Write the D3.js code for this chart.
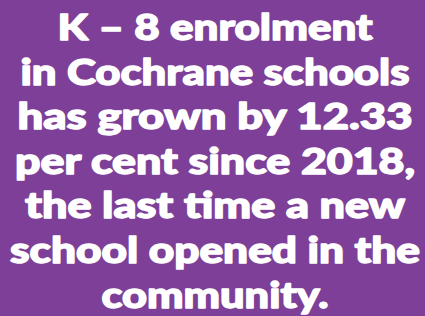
<!DOCTYPE html>
<html>
<head>
<meta charset="utf-8">
<script src="https://cdn.jsdelivr.net/npm/d3@7"></script>
<style>
  html, body { margin: 0; padding: 0; background: #7e3f98; }
  svg { display: block; }
</style>
</head>
<body>
<svg id="chart"></svg>
<script>
// text lines of the card, and the width each line fills in the original
var lines = [
    "K \u2013 8 enrolment",
    "in Cochrane schools",
    "has grown by 12.33",
    "per cent since 2018,",
    "the last time a new",
    "school opened in the",
    "community."
];
var line_widths = [315, 389, 395, 400, 380, 410, 227];

var width = 425,
    height = 316;

var svg = d3.select("#chart")
    .attr("width", width)
    .attr("height", height);

svg.append("rect")
    .attr("width", width)
    .attr("height", height)
    .attr("fill", "#7e3f98");

// baselines spaced evenly down the card
var y_scale = d3.scaleLinear()
    .domain([0, lines.length - 1])
    .range([40, 307.5]);

// the original face is a very heavy geometric sans, so thicken with a stroke
svg.selectAll(".line")
    .data(lines)
    .enter().append("text")
    .attr("class", "line")
    .attr("x", 215)
    .attr("y", (d, i) => y_scale(i))
    .attr("text-anchor", "middle")
    .attr("textLength", (d, i) => line_widths[i])
    .attr("lengthAdjust", "spacingAndGlyphs")
    .attr("fill", "#ffffff")
    .attr("stroke", "#ffffff")
    .attr("stroke-width", 1.4)
    .attr("stroke-linejoin", "round")
    .style("font-family", "Lato, 'DejaVu Sans', sans-serif")
    .style("font-weight", 900)
    .style("font-size", "36px")
    .text(d => d);
</script>
</body>
</html>
